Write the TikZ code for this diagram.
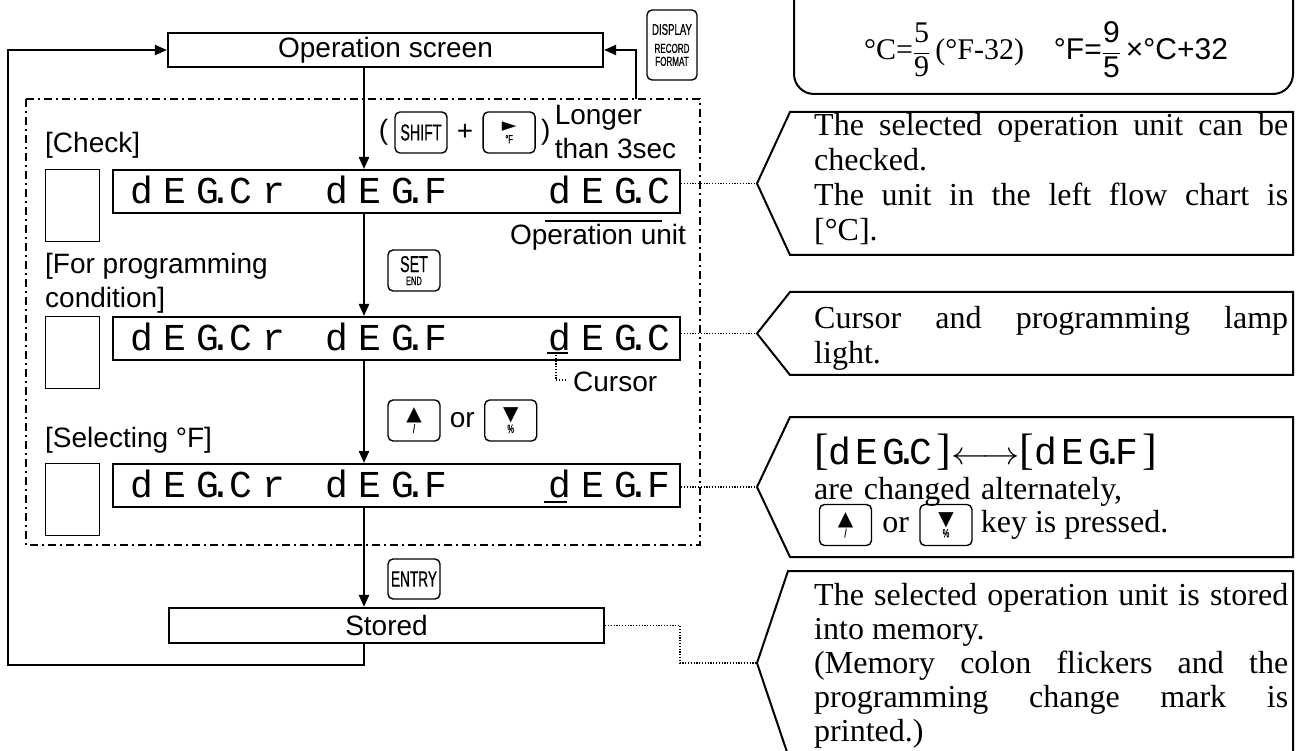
\documentclass[tikz,border=0pt]{standalone}
\usepackage{amsmath}
\usepackage{graphicx}
\usepackage{fontspec}
\setmainfont{Liberation Sans}
\newfontfamily\notefont{Liberation Serif}
\newfontfamily\keyfont[FakeStretch=0.62,FakeBold=0.6]{Liberation Sans}
\newfontfamily\lcdfont{Liberation Mono}
\newfontfamily\symfont{DejaVu Sans}
\usetikzlibrary{arrows.meta,positioning}
\setlength\parindent{0pt}

% seven segment readout, one cell per character
\newcommand\lcddot{\rlap{\hspace{-10pt}.}}
\newcommand\lcdtext[2][33pt]{{\lcdfont\fontsize{38}{38}\selectfont\foreach \ch in {#2}{\makebox[#1][l]{\ch}}}}
\newcommand\tallbrk[1]{{\fontsize{44}{35}\selectfont#1}}

\begin{document}
\begin{tikzpicture}[
  x=1pt, y=-1pt,
  box/.style={draw, line width=2.2pt, inner sep=0pt, font=\fontsize{28}{30}\selectfont},
  lcdbox/.style={draw, line width=2.2pt, inner sep=0pt, minimum width=567pt, minimum height=43pt, anchor=north west},
  side/.style={draw, line width=1.4pt, inner sep=0pt, minimum width=54pt, minimum height=72pt, anchor=north west},
  key/.style={draw, line width=1.4pt, rounded corners=5pt, inner sep=0pt, minimum width=52pt, minimum height=41pt, align=center, font=\keyfont},
  lbl/.style={inner sep=0pt, align=left, font=\fontsize{28}{34}\selectfont},
  note/.style={inner sep=0pt, text width=474pt, align=justify, font=\notefont\fontsize{32}{35}\selectfont},
  arr/.style={-{Triangle[length=12pt,width=10pt]}, line width=2.2pt},
  dots/.style={line width=1.2pt, dash pattern=on 1.2pt off 1.6pt},
  dashdot/.style={line width=1.6pt, dash pattern=on 8pt off 4pt on 2pt off 4pt},
  callout/.style={draw, line width=2pt, line join=miter}
]
\useasboundingbox (0,0) rectangle (1299,751);
\clip (0,0) rectangle (1299,751);

% flow chart
\coordinate (spine) at (364,0);
\node[box, minimum width=435pt, minimum height=34pt] (opscr) at (385.5,50) {Operation screen};
\node[box, minimum width=435pt, minimum height=35pt] (stored) at (386.5,625.5) {Stored};
\draw[dashdot] (26,99) rectangle (700,545);
\coordinate (ret) at (636,99);

\node[lbl, anchor=west] (lcheck) at (45,145) {[Check]};
\node[lbl, anchor=west] (lprog) at (45,283) {[For programming\\condition]};
\node[lbl, anchor=west] (lsel) at (45,440) {[Selecting °F]};

\node[side] (s1) at (45,169) {};
\node[side] (s2) at (45,316) {};
\node[side] (s3) at (45,463) {};
\node[lcdbox] (d1) at (112,169) {};
\node[lcdbox] (d2) at (112,316) {};
\node[lcdbox] (d3) at (112,463) {};

\node[anchor=base west, inner sep=0pt] (w11) at (130,203.5) {\lcdtext{d,E,G\lcddot,C,r}};
\node[anchor=base west, inner sep=0pt] (w12) at (325,203.5) {\lcdtext{d,E,G\lcddot,F}};
\node[anchor=base west, inner sep=0pt] (w13) at (548,203.5) {\lcdtext{d,E,G\lcddot,C}};
\node[anchor=base west, inner sep=0pt] (w21) at (130,350.5) {\lcdtext{d,E,G\lcddot,C,r}};
\node[anchor=base west, inner sep=0pt] (w22) at (325,350.5) {\lcdtext{d,E,G\lcddot,F}};
\node[anchor=base west, inner sep=0pt] (w23) at (548,350.5) {\lcdtext{d,E,G\lcddot,C}};
\node[anchor=base west, inner sep=0pt] (w31) at (130,497.5) {\lcdtext{d,E,G\lcddot,C,r}};
\node[anchor=base west, inner sep=0pt] (w32) at (325,497.5) {\lcdtext{d,E,G\lcddot,F}};
\node[anchor=base west, inner sep=0pt] (w33) at (548,497.5) {\lcdtext{d,E,G\lcddot,F}};

% operation unit and cursor marks
\draw[line width=1.4pt] (545,221) -- (662,221);
\node[lbl] (lunit) at (598,237) {Operation unit};
\draw[line width=2pt] (547,353) -- (568,353);
\draw[line width=2pt] (544,502) -- (567,502);
\draw[dots] (556,355) -- (556,380) -- (567,380);
\node[lbl, anchor=west] (lcur) at (573,382) {Cursor};

% keys
\node[key] (kshift) at (421,132.5) {\fontsize{23}{23}\selectfont SHIFT};
\node[lbl, left=6pt of kshift] (lpar) {(};
\node[lbl, right=9pt of kshift] (lplus) {+};
\node[key, right=9pt of lplus] (kright) {{\symfont\fontsize{19}{15}\selectfont ►}\\{\fontsize{12}{11}\selectfont °F}};
\node[lbl, right=5pt of kright] (rpar) {)};
\node[lbl, right=4pt of rpar] (llong) {Longer\\than 3sec};
\node[key] (kset) at (414,270.5) {{\fontsize{23}{18}\selectfont SET}\\[1pt]{\fontsize{12}{12}\selectfont END}};
\node[key] (kup) at (414,420.5) {{\symfont\fontsize{20}{16}\selectfont ▲}\\{\fontsize{12}{11}\selectfont /}};
\node[lbl, right=9pt of kup] (lor) {or};
\node[key, right=9pt of lor] (kdown) {{\symfont\fontsize{20}{16}\selectfont ▼}\\{\fontsize{12}{11}\selectfont \%}};
\node[key, minimum height=40pt] (kentry) at (414,579) {\fontsize{22}{22}\selectfont ENTRY};
\node[key, minimum width=50pt, minimum height=70pt] (kdisp) at (672,45) {{\fontsize{15.5}{15}\selectfont DISPLAY}\\[6pt]{\fontsize{13}{13}\selectfont RECORD}\\[1pt]{\fontsize{13}{13}\selectfont FORMAT}};

% connectors
\draw[arr] (opscr.south -| spine) -- (d1.north -| spine);
\draw[arr] (d1.south -| spine) -- (d2.north -| spine);
\draw[arr] (d2.south -| spine) -- (d3.north -| spine);
\draw[arr] (d3.south -| spine) -- (stored.north -| spine);
\draw[arr] (stored.south -| spine) -- (364,665) -| (8,50) -- (opscr.west);
\draw[arr] (ret) |- (opscr.east);

% conversion formula
\draw[line width=2pt, rounded corners=20pt] (794,-40) rectangle (1293,94);
\node[inner sep=0pt, font=\fontsize{30}{30}\selectfont] (conv) at (1046,50)
  {{\notefont °C=$\displaystyle\frac{\text{5}}{\text{9}}$\,(°F-32)}\hspace{30pt}°F=$\displaystyle\frac{\text{9}}{\text{5}}$\,×°C+32};

% notes
\coordinate (t1) at (757,183.5);
\coordinate (t2) at (757,333.5);
\coordinate (t3) at (757,487);
\coordinate (t4) at (757,663);
\draw[callout] (790,112) -- (1293,112) -- (1293,255) -- (790,255) -- (t1) -- cycle;
\draw[callout] (790,292) -- (1293,292) -- (1293,375) -- (790,375) -- (t2) -- cycle;
\draw[callout] (790,417) -- (1293,417) -- (1293,557) -- (790,557) -- (t3) -- cycle;
\draw[callout] (788,571) -- (1293,571) -- (1293,755) -- (788,755) -- (t4) -- cycle;

\node[note, anchor=north west] (n1) at (814,113) {The selected operation unit can be\linebreak checked.\par The unit in the left flow chart is\linebreak{}[°C].};
\node[note, anchor=north west] (n2) at (814,306) {Cursor and programming lamp\linebreak light.};
\node[note, align=left, anchor=north west] (n3) at (814,434) {\tallbrk{[}\lcdtext[27pt]{d,E,G\lcddot,C}\tallbrk{]}\scalebox{1.5}[1.3]{$\longleftrightarrow$}\tallbrk{[}\lcdtext[27pt]{d,E,G\lcddot,F}\tallbrk{]}\\are changed alternately,};
\node[key] (kup2) at (845.5,525) {{\symfont\fontsize{20}{16}\selectfont ▲}\\{\fontsize{12}{11}\selectfont /}};
\node[inner sep=0pt, right=10pt of kup2, font=\notefont\fontsize{32}{35}\selectfont] (lor2) {or};
\node[key, right=10pt of lor2] (kdown2) {{\symfont\fontsize{20}{16}\selectfont ▼}\\{\fontsize{12}{11}\selectfont \%}};
\node[inner sep=0pt, right=8pt of kdown2, font=\notefont\fontsize{32}{35}\selectfont] (lkey) {key is pressed.};
\node[note, font=\notefont\fontsize{32}{34}\selectfont, anchor=north west] (n4) at (814,583) {The selected operation unit is stored into memory.\par (Memory colon flickers and the\linebreak programming change mark is\linebreak printed.)};

\draw[dots] (d1.east |- t1) -- (t1);
\draw[dots] (d2.east |- t2) -- (t2);
\draw[dots] (d3.east |- t3) -- (t3);
\draw[dots] (stored.east) -| (680,663) -- (t4);
\end{tikzpicture}
\end{document}
